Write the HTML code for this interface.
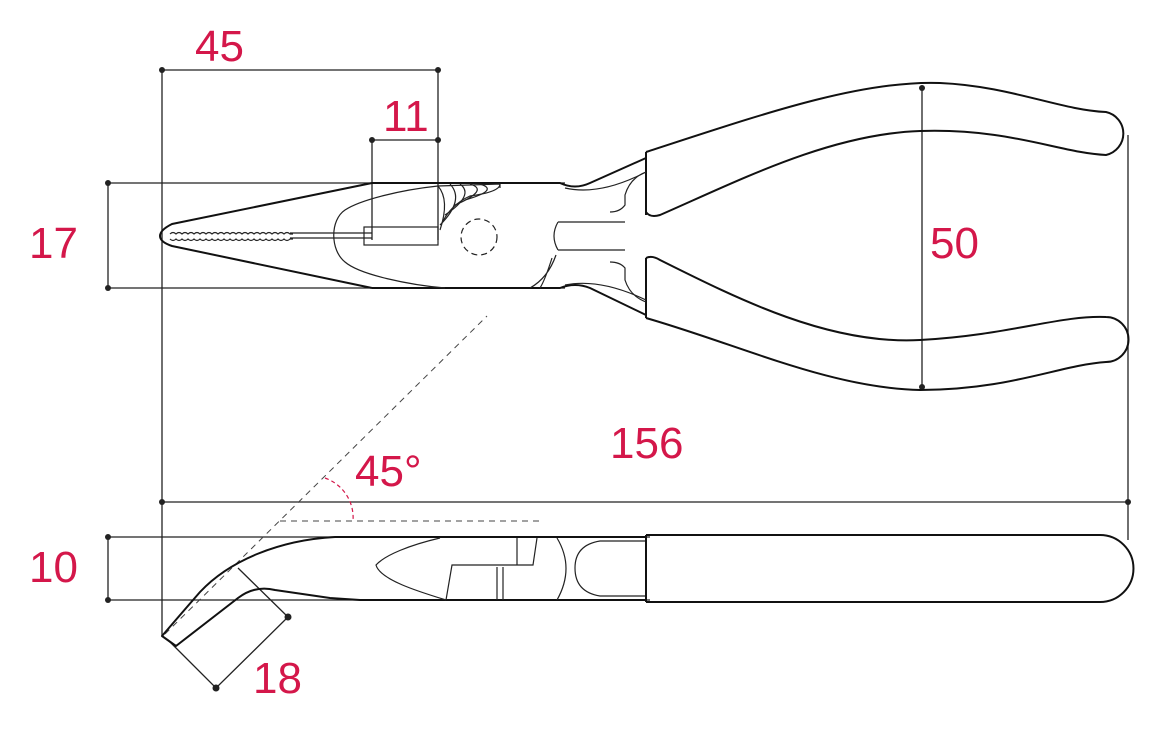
<!DOCTYPE html>
<html><head><meta charset="utf-8"><style>
html,body{margin:0;padding:0;background:#fff}
svg{display:block}
text{font-family:"Liberation Sans",sans-serif;fill:#d4174a;font-size:44px}
</style></head><body>
<svg width="1171" height="729" viewBox="0 0 1171 729" xmlns="http://www.w3.org/2000/svg">
<g stroke="#222" stroke-width="1.3" fill="none">
<line x1="162" y1="70" x2="438" y2="70"/>
<line x1="162" y1="70" x2="162" y2="636"/>
<line x1="438" y1="70" x2="438" y2="240"/>
<line x1="372" y1="140" x2="438" y2="140"/>
<line x1="372" y1="140" x2="372" y2="240"/>
<line x1="108" y1="183" x2="108" y2="288"/>
<line x1="108" y1="183" x2="565" y2="183"/>
<line x1="108" y1="288" x2="565" y2="288"/>
<line x1="922" y1="88" x2="922" y2="387"/>
<line x1="1128" y1="135" x2="1128" y2="540"/>
<line x1="162" y1="502" x2="1128" y2="502"/>
<line x1="108" y1="537" x2="108" y2="600"/>
<line x1="108" y1="537" x2="650" y2="537"/>
<line x1="108" y1="600" x2="650" y2="600"/>
<polyline points="170,642 216,688 288,617 238,568"/>
</g>
<g fill="#222">
<circle cx="162" cy="70" r="3"/><circle cx="438" cy="70" r="3"/>
<circle cx="372" cy="140" r="3"/><circle cx="438" cy="140" r="3"/>
<circle cx="108" cy="183" r="3"/><circle cx="108" cy="288" r="3"/>
<circle cx="922" cy="88" r="3"/><circle cx="922" cy="387" r="3"/>
<circle cx="162" cy="502" r="3"/><circle cx="1128" cy="502" r="3"/>
<circle cx="108" cy="537" r="3"/><circle cx="108" cy="600" r="3"/>
<circle cx="216" cy="688" r="3.5"/><circle cx="288" cy="617" r="3.5"/>
</g>
<g stroke="#444" stroke-width="1" stroke-dasharray="6,5" fill="none">
<line x1="165" y1="634" x2="487" y2="316"/>
<line x1="280" y1="521" x2="540" y2="521"/>
</g>
<path d="M325,478 A42,42 0 0 1 353,521" stroke="#d4174a" stroke-width="1.2" fill="none" stroke-dasharray="4,3"/>
<g stroke="#111" stroke-width="2" fill="none" stroke-linejoin="round">
<path d="M372,183 L172,224 Q160,230 160,236 Q160,242 172,246 L372,288"/>
<path d="M372,183 L560,183 Q575,190 590,183 L646,158"/>
<path d="M372,288 L560,288 Q575,282 590,288 L646,315"/>
<path d="M646,152 L646,215 M646,258 L646,318"/>
<path d="M646,152 C760,115 860,80 940,83 C1010,86 1060,110 1106,112 A22,22 0 0 1 1106,155 C1060,153 1010,128 920,131 C830,134 740,180 660,215 Q650,218 646,212"/>
<path d="M646,258 Q652,255 660,260 C740,300 830,345 920,340 C1010,335 1060,315 1106,317 A22,22 0 0 1 1106,362 C1060,365 1010,390 920,390 C830,388 740,345 646,318"/>
</g>
<g stroke="#222" stroke-width="1.2" fill="none">
<path d="M438,186 C400,190 360,200 345,210 C330,220 330,250 345,262 C360,275 410,285 445,288"/>
<rect x="364" y="227" width="74" height="18"/>
<line x1="290" y1="233" x2="372" y2="233"/><line x1="290" y1="238" x2="372" y2="238"/>
<path d="M170,234 q3,-3 6,0 q3,-3 6,0 q3,-3 6,0 q3,-3 6,0 q3,-3 6,0 q3,-3 6,0 q3,-3 6,0 q3,-3 6,0 q3,-3 6,0 q3,-3 6,0 q3,-3 6,0 q3,-3 6,0 q3,-3 6,0 q3,-3 6,0 q3,-3 6,0 q3,-3 6,0 q3,-3 6,0 q3,-3 6,0 q3,-3 6,0 q3,-3 6,0 l3,0"/>
<path d="M170,239 q3,3 6,0 q3,3 6,0 q3,3 6,0 q3,3 6,0 q3,3 6,0 q3,3 6,0 q3,3 6,0 q3,3 6,0 q3,3 6,0 q3,3 6,0 q3,3 6,0 q3,3 6,0 q3,3 6,0 q3,3 6,0 q3,3 6,0 q3,3 6,0 q3,3 6,0 q3,3 6,0 q3,3 6,0 q3,3 6,0 l3,0"/>
<path d="M438,186 Q450,200 440,230 M450,184 Q465,200 440,225 M460,184 Q475,195 445,215 M470,184 Q490,190 455,205 M480,184 Q500,190 465,200 M500,184 L500,188"/>
<path d="M438,186 L500,184 Q500,192 470,196 Q450,205 441,225"/>
<circle cx="479" cy="237" r="18" stroke-dasharray="6,4"/>
<path d="M646,172 Q630,178 625,195 L625,205 Q620,212 610,212"/>
<path d="M646,302 Q630,296 625,280 L625,268 Q620,262 610,262"/>
<path d="M565,188 Q600,196 646,172 M565,285 Q600,278 646,300"/>
<path d="M558,222 L625,222 M558,250 L625,250 M558,222 Q550,236 558,250"/>
<path d="M556,255 Q548,278 530,288 M552,258 Q545,280 540,288"/>
</g>
<g stroke="#111" stroke-width="2" fill="none" stroke-linejoin="round">
<path d="M1100,535 A33,33 0 0 1 1100,602"/>
<path d="M646,535 L1100,535 M646,602 L1100,602 M646,535 L646,602"/>
<path d="M646,537 L335,537 C280,540 230,560 200,592 Q180,615 162,636 L176,646 L238,598 Q255,585 275,590 L330,598 L360,600 L646,600"/>
</g>
<g stroke="#222" stroke-width="1.2" fill="none">
<path d="M440,538 C410,545 385,555 376,565 C380,580 420,592 446,600"/>
<path d="M446,600 L452,565 L533,565 L537,538 M517,538 L517,565 M497,567 L497,600 M503,567 L503,600"/>
<path d="M557,538 Q575,568 557,600"/>
<path d="M645,541 L600,541 Q575,545 575,568 Q575,592 600,596 L645,596"/>
</g>
<text x="195" y="61">45</text>
<text x="383" y="131">11</text>
<text x="29" y="258">17</text>
<text x="930" y="258">50</text>
<text x="610" y="458">156</text>
<text x="355" y="486">45°</text>
<text x="29" y="582">10</text>
<text x="253" y="693">18</text>
</svg>
</body></html>
